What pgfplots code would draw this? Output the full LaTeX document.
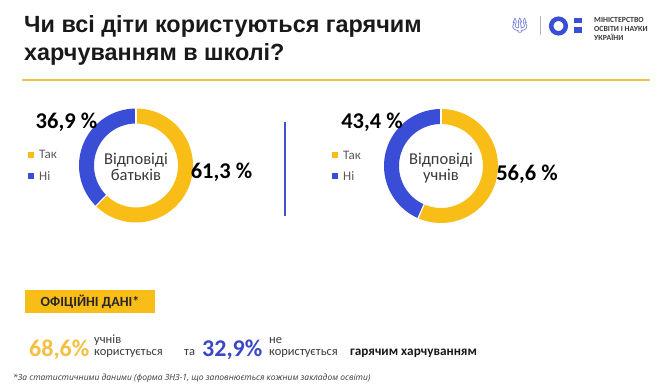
\documentclass[border=0pt]{standalone}
\usepackage{fontspec}
\setmainfont{Carlito}
\newfontfamily\titlefont{Liberation Sans}
\newfontfamily\footfont{Open Sans}
\newfontfamily\emojifont{Noto Emoji}
\usepackage{pgfplots}
\pgfplotsset{compat=1.18}
\usepgfplotslibrary{polar}
\definecolor{ycol}{HTML}{F9BD17}
\definecolor{bcol}{HTML}{3A4DD6}
\definecolor{ylight}{HTML}{F4C043}
\definecolor{bdark}{HTML}{3A48C5}
\definecolor{rulecol}{HTML}{EDC44B}
\definecolor{dcol}{HTML}{4252C8}
\definecolor{txt}{HTML}{3A3A3A}
\definecolor{legtxt}{HTML}{5A5A5A}
% survey answers (percent): yes / no
\newcommand\pYes{61.3}\newcommand\pNo{36.9}   % parents
\newcommand\sYes{56.6}\newcommand\sNo{43.4}   % pupils
\pgfmathsetmacro\pAng{90-360*(\pYes/(\pYes+\pNo))}
\pgfmathsetmacro\pEnd{\pAng+360}
\pgfmathsetmacro\sAng{90-360*(\sYes/(\sYes+\sNo))}
\pgfmathsetmacro\sEnd{\sAng+360}
\pgfplotsset{
  donut/.style={hide axis, scale only axis, width=114pt, height=114pt,
    xmin=0, xmax=360, ymin=0, ymax=1, clip=false, anchor=center,
    legend image code/.code={\fill[##1] (0pt,-3pt) rectangle (6pt,3pt);},
    legend style={draw=none, fill=none, inner sep=0pt, anchor=west,
      row sep=12.5pt,
      nodes={inner sep=0pt, text depth=0pt, font=\fontsize{13}{13}\selectfont, text=legtxt},
      /tikz/every odd column/.append style={column sep=5pt}},
    legend cell align=left},
}
\begin{document}
\begin{tikzpicture}
\fill[white] (0pt,0pt) rectangle (665pt,386pt);
\path[use as bounding box] (0pt,0pt) rectangle (665pt,386pt);
% title
\node[anchor=base west, inner sep=0pt, font=\titlefont\bfseries\fontsize{23.4}{26}\selectfont, text=black!90] at (24pt,353pt) {Чи всі діти користуються гарячим};
\node[anchor=base west, inner sep=0pt, font=\titlefont\bfseries\fontsize{23.4}{26}\selectfont, text=black!90] at (24pt,325pt) {харчуванням в школі?};
\draw[rulecol, line width=2pt] (22pt,306pt) -- (650pt,306pt);
% logo
\node[text=bcol, font=\emojifont\fontsize{15}{15}\selectfont, inner sep=0pt] at (520pt,361pt) {🔱};
\draw[gray!60, line width=0.6pt] (540pt,370pt) -- (540pt,351pt);
\draw[bcol, line width=4.5pt] (558.5pt,360pt) circle (7.3pt);
\fill[bcol] (574pt,368.3pt) rectangle (582pt,362.7pt);
\fill[bcol] (574pt,359.3pt) rectangle (582pt,352.7pt);
\node[anchor=base west, inner sep=0pt, font=\bfseries\fontsize{7.8}{7.8}\selectfont, text=txt] at (594pt,363.7pt) {МІНІСТЕРСТВО};
\node[anchor=base west, inner sep=0pt, font=\bfseries\fontsize{7.8}{7.8}\selectfont, text=txt] at (594pt,354.3pt) {ОСВІТИ І НАУКИ};
\node[anchor=base west, inner sep=0pt, font=\bfseries\fontsize{7.8}{7.8}\selectfont, text=txt] at (594pt,345pt) {УКРАЇНИ};
% donut 1: parents
\begin{polaraxis}[donut, at={(136pt,220.5pt)}, legend style={at={(-0.447,0.5)}}]
\addplot[ycol, line width=15pt, domain=\pAng:90, samples=120, forget plot] {0.868};
\addplot[bcol, line width=15pt, domain=90:\pEnd, samples=120, forget plot] {0.868};
\addplot[white, line width=1.2pt, forget plot] coordinates {(90,0.7) (90,1.04)};
\addplot[white, line width=1.2pt, forget plot] coordinates {(\pAng,0.7) (\pAng,1.04)};
\addlegendimage{fill=ycol, draw=none}
\addlegendentry{Так}
\addlegendimage{fill=bcol, draw=none}
\addlegendentry{Ні}
\end{polaraxis}
% donut 2: pupils
\begin{polaraxis}[donut, at={(441pt,220pt)}, legend style={at={(-0.456,0.5)}}]
\addplot[ycol, line width=15pt, domain=\sAng:90, samples=120, forget plot] {0.868};
\addplot[bcol, line width=15pt, domain=90:\sEnd, samples=120, forget plot] {0.868};
\addplot[white, line width=1.2pt, forget plot] coordinates {(90,0.7) (90,1.04)};
\addplot[white, line width=1.2pt, forget plot] coordinates {(\sAng,0.7) (\sAng,1.04)};
\addlegendimage{fill=ycol, draw=none}
\addlegendentry{Так}
\addlegendimage{fill=bcol, draw=none}
\addlegendentry{Ні}
\end{polaraxis}
% centre texts
\node[align=center, font=\fontsize{16.5}{16}\selectfont, text=txt] at (136pt,219pt) {Відповіді\\батьків};
\node[align=center, font=\fontsize{16.5}{16}\selectfont, text=txt] at (441pt,218pt) {Відповіді\\учнів};
% percentage labels
\node[font=\bfseries\fontsize{22.5}{22.5}\selectfont] at (66.5pt,264pt) {36,9 \%};
\node[font=\bfseries\fontsize{22.5}{22.5}\selectfont] at (221.5pt,213.5pt) {61,3 \%};
\node[font=\bfseries\fontsize{22.5}{22.5}\selectfont] at (372pt,264pt) {43,4 \%};
\node[font=\bfseries\fontsize{22.5}{22.5}\selectfont] at (527pt,211.5pt) {56,6 \%};
% divider
\draw[dcol, line width=2pt] (285pt,264pt) -- (285pt,170pt);
% official data
\node[fill=ycol, minimum width=130pt, minimum height=23pt, inner sep=0pt, font=\bfseries\fontsize{14}{14}\selectfont, text=black!85] at (90pt,84.5pt) {ОФІЦІЙНІ ДАНІ*};
\node[anchor=base west, inner sep=0pt, text=ylight, font=\bfseries\fontsize{24}{24}\selectfont] at (29pt,29pt) {68,6\%};
\node[anchor=base west, inner sep=0pt, text=txt, font=\fontsize{12.5}{12.5}\selectfont] at (94pt,42.5pt) {учнів};
\node[anchor=base west, inner sep=0pt, text=txt, font=\fontsize{12.5}{12.5}\selectfont] at (94pt,30pt) {користується};
\node[anchor=base west, inner sep=0pt, text=txt, font=\fontsize{12.5}{12.5}\selectfont] at (184pt,30pt) {та};
\node[anchor=base west, inner sep=0pt, text=bdark, font=\bfseries\fontsize{24}{24}\selectfont] at (202pt,29pt) {32,9\%};
\node[anchor=base west, inner sep=0pt, text=txt, font=\fontsize{12.5}{12.5}\selectfont] at (269pt,42.5pt) {не};
\node[anchor=base west, inner sep=0pt, text=txt, font=\fontsize{12.5}{12.5}\selectfont] at (269pt,30pt) {користується};
\node[anchor=base west, inner sep=0pt, text=black!90, font=\bfseries\fontsize{13.2}{13.2}\selectfont] at (350pt,30pt) {гарячим харчуванням};
% footnote
\node[anchor=base west, inner sep=0pt, text=txt, font=\footfont\itshape\fontsize{8.5}{8.5}\selectfont] at (13pt,5pt) {*За статистичними даними (форма ЗНЗ-1, що заповнюється кожним закладом освіти)};
\end{tikzpicture}
\end{document}
